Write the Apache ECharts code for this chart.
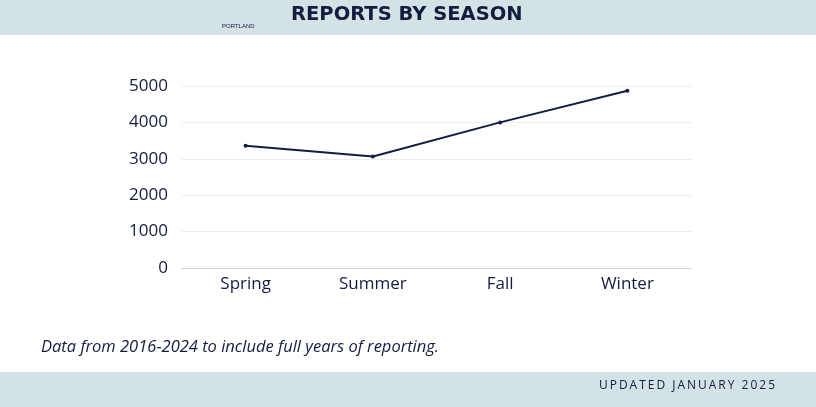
<!DOCTYPE html><html><head><meta charset="utf-8"><script src="https://cdn.jsdelivr.net/npm/echarts@6/dist/echarts.min.js"></script>
<style>body{margin:0}#c{width:816px;height:407px}</style></head><body><div id="c"></div><script>
const categories=['Spring','Summer','Fall','Winter'];
const reports=[3360,3065,4000,4870];
const yTicks=[0,1000,2000,3000,4000,5000];
const navy='#141c40';
const spaced=(s,c)=>s.split('').join(c);
const chart=echarts.init(document.getElementById('c'));
chart.setOption({
backgroundColor:'#ffffff',
graphic:[
{type:'rect',shape:{x:0,y:0,width:816,height:35},style:{fill:'#d3e2e5'},silent:true},
{type:'rect',shape:{x:0,y:372,width:816,height:35},style:{fill:'#d3e2e5'},silent:true},
{type:'text',left:291,top:5,style:{text:'REPORTS BY SEASON',font:'bold 19.5px "DejaVu Sans", sans-serif',fill:navy}},
{type:'text',left:222,top:23,style:{text:'PORTLAND',font:'6px sans-serif',fill:navy}},
{type:'text',left:41,top:339,style:{text:'Data from 2016-2024 to include full years of reporting.',font:'italic 16.5px "Open Sans", sans-serif',fill:navy}},
{type:'text',right:41,top:380,style:{text:spaced('UPDATED JANUARY 2025','\u2009'),font:'12px "Open Sans", sans-serif',fill:navy}}
],
grid:{left:182,right:125,top:86,bottom:139},
xAxis:{type:'category',data:categories,axisLine:{lineStyle:{color:'#ccd0da'}},axisTick:{show:false},
 axisLabel:{color:navy,fontSize:17,margin:8,fontFamily:'"Open Sans", sans-serif'}},
yAxis:{type:'value',min:0,max:5000,interval:1000,axisLine:{show:false},axisTick:{show:false},
 splitLine:{lineStyle:{color:'#ececec'}},
 axisLabel:{color:navy,fontSize:17,margin:14,fontFamily:'"Open Sans", sans-serif',formatter:v=>yTicks.includes(v)?String(v):''}},
series:[{type:'line',data:reports,symbol:'circle',symbolSize:4,lineStyle:{color:navy,width:2},itemStyle:{color:navy},animation:false}]
});
</script></body></html>
